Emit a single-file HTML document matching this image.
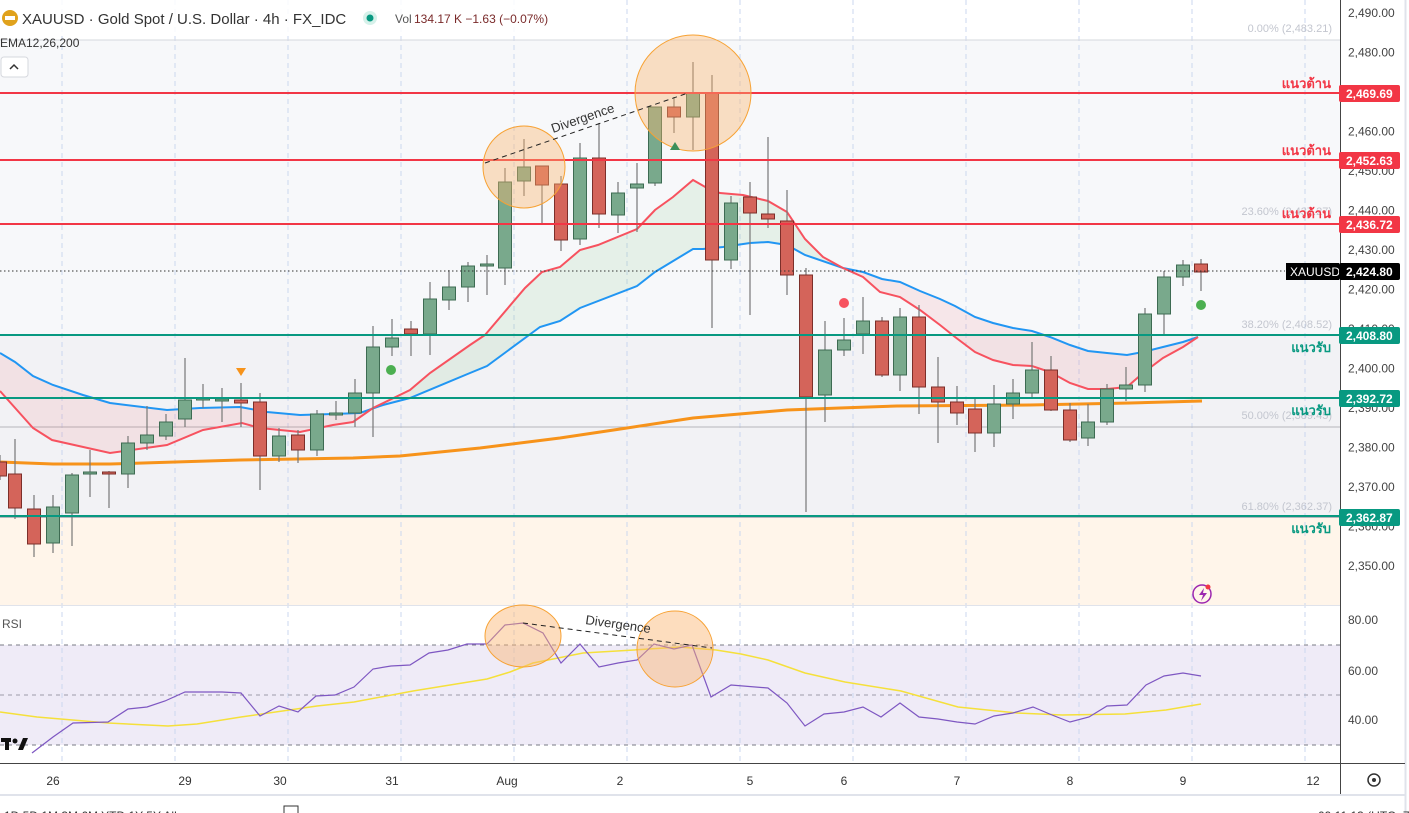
<!DOCTYPE html>
<html><head><meta charset="utf-8"><style>
html,body{margin:0;padding:0;background:#fff;width:1409px;height:813px;overflow:hidden}
svg{display:block}
text{font-family:"Liberation Sans","Noto Sans CJK SC",sans-serif}
</style></head><body>
<svg id="s" width="1409" height="813" xmlns="http://www.w3.org/2000/svg">
<rect x="0" y="0" width="1409" height="813" fill="#fff"/>
<rect x="0" y="40" width="1340" height="295" fill="#f7f8fa"/>
<rect x="0" y="335" width="1340" height="182" fill="#f2f2f5"/>
<rect x="0" y="517" width="1340" height="88" fill="#fff5ea"/>
<rect x="0" y="645" width="1340" height="100" fill="#efebf7"/>
<g id="grid"></g>
<line x1="0" y1="40" x2="1340" y2="40" stroke="#d6d8de" stroke-width="1"/>
<line x1="0" y1="427" x2="1340" y2="427" stroke="#b6b6bc" stroke-width="1"/>
<line x1="0" y1="517.5" x2="1340" y2="517.5" stroke="#b6b6bc" stroke-width="1"/>
<g font-size="11" fill="#c3c6cf" text-anchor="end">
<text x="1332" y="32">0.00% (2,483.21)</text>
<text x="1332" y="215">23.60% (2,437.27)</text>
<text x="1332" y="328">38.20% (2,408.52)</text>
<text x="1332" y="419">50.00% (2,389.45)</text>
<text x="1332" y="510">61.80% (2,362.37)</text>
</g>
<g id="fill"></g>
<g id="ema"></g>
<g id="candles"></g>
<g stroke-width="2">
<line x1="0" y1="93" x2="1340" y2="93" stroke="#f23645"/>
<line x1="0" y1="160" x2="1340" y2="160" stroke="#f23645"/>
<line x1="0" y1="224" x2="1340" y2="224" stroke="#f23645"/>
<line x1="0" y1="335" x2="1340" y2="335" stroke="#089981"/>
<line x1="0" y1="398" x2="1340" y2="398" stroke="#089981"/>
<line x1="0" y1="516" x2="1340" y2="516" stroke="#089981"/>
</g>
<line x1="0" y1="271" x2="1285" y2="271" stroke="#333" stroke-width="1" stroke-dasharray="1.5,2.5"/>
<g font-size="13" font-weight="bold" text-anchor="end">
<text x="1331" y="88" fill="#f23645">แนวต้าน</text>
<text x="1331" y="155" fill="#f23645">แนวต้าน</text>
<text x="1331" y="218" fill="#f23645">แนวต้าน</text>
<text x="1331" y="352" fill="#089981">แนวรับ</text>
<text x="1331" y="415" fill="#089981">แนวรับ</text>
<text x="1331" y="533" fill="#089981">แนวรับ</text>
</g>
<circle cx="524" cy="167" r="41" fill="rgba(250,180,110,0.4)" stroke="#f7a234" stroke-width="1"/>
<circle cx="693" cy="93" r="58" fill="rgba(250,180,110,0.4)" stroke="#f7a234" stroke-width="1"/>
<line x1="485" y1="163" x2="688" y2="93" stroke="#222" stroke-width="1" stroke-dasharray="5,4"/>
<text x="0" y="0" font-size="13" fill="#333" transform="translate(553,133) rotate(-19)">Divergence</text>
<path d="M241,376 l-5,-8 h10z" fill="#f7931a"/>
<path d="M675,142 l-5,8 h10z" fill="#3d8f5a"/>
<circle cx="391" cy="370" r="5" fill="#4caf50"/>
<circle cx="844" cy="303" r="5" fill="#f7525f"/>
<circle cx="1201" cy="305" r="5" fill="#4caf50"/>
<circle cx="1202" cy="594" r="9" fill="none" stroke="#9c27b0" stroke-width="1.5"/>
<path d="M1204,588 l-5,7 h4 l-2,6 l6,-8 h-4z" fill="#9c27b0"/>
<circle cx="1208" cy="587" r="2.5" fill="#f23645"/>
<line x1="0" y1="605.5" x2="1340" y2="605.5" stroke="#e0e3eb"/>
<line x1="0" y1="645" x2="1340" y2="645" stroke="#787b86" stroke-dasharray="4,4"/>
<line x1="0" y1="695" x2="1340" y2="695" stroke="#9e9ba8" stroke-dasharray="4,4"/>
<line x1="0" y1="745" x2="1340" y2="745" stroke="#787b86" stroke-dasharray="4,4"/>
<text x="2" y="628" font-size="12" fill="#555">RSI</text>
<g id="rsi"></g>
<ellipse cx="523" cy="636" rx="38" ry="31" fill="rgba(250,180,110,0.45)" stroke="#f7a234"/>
<ellipse cx="675" cy="649" rx="38" ry="38" fill="rgba(250,180,110,0.45)" stroke="#f7a234"/>
<line x1="523" y1="623" x2="712" y2="648" stroke="#222" stroke-dasharray="5,4"/>
<text x="0" y="0" font-size="13" fill="#333" transform="translate(585,624) rotate(8)">Divergence</text>
<g fill="#111"><rect x="1" y="738" width="10" height="4"/><rect x="5" y="738" width="4" height="12"/><circle cx="15" cy="741" r="2.5"/><path d="M18,750 l5,-12 h5 l-5,12z"/></g>
<rect x="1340" y="0" width="69" height="813" fill="#fff"/>
<line x1="1340.5" y1="0" x2="1340.5" y2="795" stroke="#444"/>
<line x1="1405.5" y1="0" x2="1405.5" y2="813" stroke="#e0e3eb" stroke-width="2"/>
<line x1="0" y1="763.5" x2="1405" y2="763.5" stroke="#444"/>
<line x1="0" y1="795" x2="1405" y2="795" stroke="#e0e3eb" stroke-width="2"/>
<g id="yax" font-size="12" fill="#444"></g>
<g font-size="12" fill="#444">
<text x="1348" y="624">80.00</text><text x="1348" y="675">60.00</text><text x="1348" y="724">40.00</text>
</g>
<g font-size="12" font-weight="bold" fill="#fff">
<rect x="1339" y="85" width="61" height="17" rx="2" fill="#f23645"/><text x="1346" y="98">2,469.69</text>
<rect x="1339" y="152" width="61" height="17" rx="2" fill="#f23645"/><text x="1346" y="165">2,452.63</text>
<rect x="1339" y="216" width="61" height="17" rx="2" fill="#f23645"/><text x="1346" y="229">2,436.72</text>
<rect x="1286" y="263" width="53" height="17" fill="#000"/><text x="1290" y="276" font-weight="normal">XAUUSD</text>
<rect x="1339" y="263" width="61" height="17" rx="2" fill="#000"/><text x="1346" y="276">2,424.80</text>
<rect x="1339" y="327" width="61" height="17" rx="2" fill="#089981"/><text x="1346" y="340">2,408.80</text>
<rect x="1339" y="390" width="61" height="17" rx="2" fill="#089981"/><text x="1346" y="403">2,392.72</text>
<rect x="1339" y="509" width="61" height="17" rx="2" fill="#089981"/><text x="1346" y="522">2,362.87</text>
</g>
<g font-size="12" fill="#333" text-anchor="middle">
<text x="53" y="785">26</text><text x="185" y="785">29</text><text x="280" y="785">30</text><text x="392" y="785">31</text><text x="507" y="785">Aug</text><text x="620" y="785">2</text><text x="750" y="785">5</text><text x="844" y="785">6</text><text x="957" y="785">7</text><text x="1070" y="785">8</text><text x="1183" y="785">9</text><text x="1313" y="785">12</text>
</g>
<circle cx="1374" cy="780" r="6" fill="none" stroke="#333" stroke-width="1.5"/><circle cx="1374" cy="780" r="2" fill="#333"/>
<text x="4" y="820" font-size="12" fill="#333">1D  5D  1M  3M  6M  YTD  1Y  5Y  All</text>
<rect x="284" y="806" width="14" height="12" fill="none" stroke="#333"/>
<text x="1318" y="820" font-size="12" fill="#333">09:11:13 (UTC+7)</text>
<rect x="0" y="0" width="520" height="36" fill="#fff" opacity="0.85"/>
<circle cx="10" cy="18" r="8" fill="#e0a21c"/><rect x="5" y="16" width="10" height="4" fill="#fff"/>
<text x="22" y="24" font-size="15" fill="#333">XAUUSD · Gold Spot / U.S. Dollar · 4h · FX_IDC</text>
<circle cx="370" cy="18" r="7" fill="#d6f1ea"/><circle cx="370" cy="18" r="3.5" fill="#089981"/>
<text x="395" y="23" font-size="12" fill="#555">Vol</text>
<text x="414" y="23" font-size="12" fill="#7a2a2a">134.17 K  −1.63 (−0.07%)</text>
<text x="0" y="47" font-size="12" fill="#333">EMA12,26,200</text>
<rect x="1" y="57" width="27" height="20" rx="3" fill="#fff" stroke="#d6d8de"/>
<path d="M10,69 l4,-4 l4,4" fill="none" stroke="#333" stroke-width="1.5"/>
</svg>
<script>
var NS="http://www.w3.org/2000/svg";
function el(p,t,a){var e=document.createElementNS(NS,t);for(var k in a)e.setAttribute(k,a[k]);document.getElementById(p).appendChild(e);return e;}
[62,175,288,401,514,627,740,853,966,1079,1192,1305].forEach(function(x){el("grid","line",{x1:x,y1:0,x2:x,y2:763,stroke:"#cbd7ef","stroke-dasharray":"5,4"});});
for(var k=0;k<15;k++){var p=2490-k*10;var y=13+k*39.5;var t=el("yax","text",{x:1348,y:y+4});t.textContent=p.toLocaleString("en-US")+".00";}
var C=[[0,462,476,455,480],[15,474,508,439,519],[34,509,544,495,557],[53,543,507,495,553],[72,513,475,473,546],[90,474,472,450,497],[109,472,474,471,508],[128,474,443,436,488],[147,443,435,406,450],[166,436,422,414,440],[185,419,400,358,427],[203,400,398,384,408],[222,401,399,388,422],[241,400,403,383,427],[260,402,456,393,490],[279,456,436,428,462],[298,435,450,430,463],[317,450,414,410,456],[336,415,413,401,420],[355,413,393,379,427],[373,393,347,326,437],[392,347,338,319,356],[411,329,334,321,356],[430,334,299,282,355],[449,300,287,270,310],[468,287,266,262,302],[487,266,264,255,295],[505,268,182,168,285],[524,181,167,139,196],[542,166,185,166,223],[561,184,240,176,251],[580,239,158,143,245],[599,158,214,123,228],[618,215,193,182,233],[637,188,184,163,232],[655,183,107,107,186],[674,107,117,97,133],[693,117,93,62,150],[712,93,260,75,328],[731,260,203,196,269],[750,197,213,182,315],[768,214,219,137,228],[787,221,275,190,295],[806,275,397,268,512],[825,395,350,321,422],[844,350,340,318,356],[863,334,321,297,354],[882,321,375,317,377],[900,375,317,308,391],[919,317,387,305,414],[938,387,402,357,443],[957,402,413,386,425],[975,409,433,399,452],[994,433,404,385,447],[1013,404,393,379,419],[1032,393,370,342,398],[1051,370,410,356,411],[1070,410,440,403,442],[1088,438,422,404,446],[1107,422,389,384,425],[1126,389,385,367,401],[1145,385,314,308,392],[1164,314,277,271,334],[1183,277,265,260,286],[1201,264,272,259,291]];
C.forEach(function(c){var g=c[2]<=c[1];var x=c[0];el("candles","line",{x1:x,y1:c[3],x2:x,y2:c[4],stroke:"#777","stroke-width":1.2});var t=Math.min(c[1],c[2]),h=Math.max(2,Math.abs(c[1]-c[2]));el("candles","rect",{x:x-6.5,y:t,width:13,height:h,fill:g?"#79a98c":"#d4645a",stroke:g?"#3d6b52":"#7c2f2a","stroke-width":1});});
var R=[[0,391],[33,428],[52,440],[110,453],[167,445],[203,430],[242,423],[260,428],[300,432],[333,425],[353,422],[373,408],[410,390],[430,373],[470,345],[485,335],[525,288],[542,272],[560,267],[580,250],[598,245],[637,229],[655,210],[673,197],[693,180],[707,188],[720,193],[743,195],[768,201],[787,212],[805,239],[823,257],[843,268],[863,277],[880,292],[900,297],[920,310],[940,325],[955,337],[975,352],[993,360],[1013,365],[1032,366],[1050,372],[1070,383],[1088,389],[1107,389],[1127,387],[1143,373],[1163,358],[1183,347],[1198,337]];
var B=[[0,353],[15,362],[33,376],[53,385],[83,395],[110,403],[167,410],[200,408],[240,407],[267,412],[300,415],[333,414],[360,413],[383,405],[410,398],[470,373],[487,366],[540,327],[560,321],[580,308],[637,286],[655,272],[693,249],[703,249],[723,247],[750,243],[768,242],[787,245],[805,255],[843,268],[863,272],[882,279],[900,282],[920,291],[940,299],[955,306],[975,317],[993,323],[1013,328],[1032,331],[1050,337],[1070,345],[1088,351],[1107,353],[1127,355],[1143,352],[1163,347],[1183,342],[1198,337]];
var O=[[0,462],[53,464],[110,464],[240,460],[353,458],[400,456],[480,448],[560,438],[627,428],[693,418],[787,410],[840,408],[897,406],[1030,405],[1130,403],[1202,401]];
function pts(a){return a.map(function(p){return p.join(",")}).join(" ");}
function seg(a,x0,x1){return a.filter(function(p){return p[0]>=x0&&p[0]<=x1;});}
function poly(x0,x1,col){var r=seg(R,x0,x1),b=seg(B,x0,x1).reverse();el("fill","polygon",{points:pts(r.concat(b)),fill:col});}
poly(0,410,"rgba(242,54,69,0.09)");poly(410,843,"rgba(76,175,80,0.10)");poly(843,1200,"rgba(242,54,69,0.09)");
el("ema","polyline",{points:pts(O),fill:"none",stroke:"#f7931a","stroke-width":3});
el("ema","polyline",{points:pts(B),fill:"none",stroke:"#2196f3","stroke-width":2});
el("ema","polyline",{points:pts(R),fill:"none",stroke:"#f7525f","stroke-width":2});
var RS=[[32,753],[53,737],[73,723],[108,722],[128,709],[147,707],[165,701],[185,692],[222,692],[241,693],[260,716],[279,706],[298,712],[316,696],[335,695],[354,687],[373,669],[391,666],[410,665],[429,653],[448,650],[467,644],[487,644],[505,625],[523,623],[543,633],[561,663],[580,644],[599,667],[618,663],[637,660],[654,644],[674,649],[692,645],[711,697],[731,685],[768,688],[787,703],[805,726],[824,714],[844,712],[863,707],[881,717],[900,703],[919,717],[938,719],[957,722],[975,724],[994,716],[1013,713],[1033,707],[1052,715],[1070,722],[1089,717],[1107,706],[1127,705],[1146,685],[1164,676],[1183,673],[1201,676]];
var Y=[[0,712],[37,717],[108,723],[168,726],[197,724],[241,717],[317,706],[354,702],[413,691],[487,679],[510,672],[533,663],[583,653],[634,650],[680,647],[716,650],[741,654],[768,660],[805,673],[845,682],[901,691],[958,707],[1017,713],[1062,715],[1125,714],[1166,710],[1201,704]];
el("rsi","polyline",{points:pts(Y),fill:"none",stroke:"#f5e03b","stroke-width":1.5});
el("rsi","polyline",{points:pts(RS),fill:"none",stroke:"#7e57c2","stroke-width":1.2});
</script>
</body></html>
